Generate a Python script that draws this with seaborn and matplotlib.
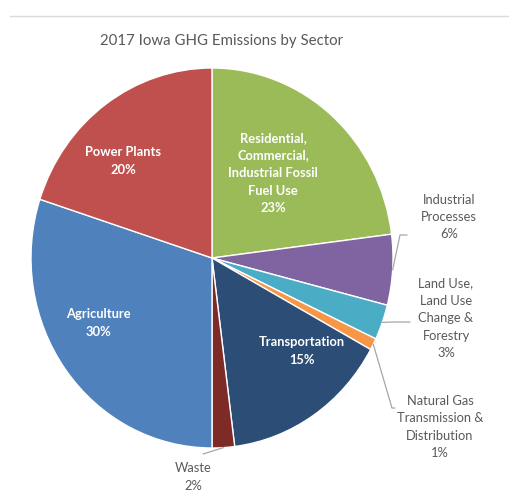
import matplotlib
matplotlib.use("Agg")
import matplotlib.pyplot as plt
import seaborn as sns
import numpy as np
from matplotlib.lines import Line2D

sns.set_theme(style="white")
plt.rcParams['font.family'] = ['Lato', 'DejaVu Sans']

sectors = ["Residential,\nCommercial,\nIndustrial Fossil\nFuel Use",
           "Industrial\nProcesses",
           "Land Use,\nLand Use\nChange &\nForestry",
           "Natural Gas\nTransmission &\nDistribution",
           "Transportation",
           "Waste",
           "Agriculture",
           "Power Plants"]
shares = [23, 6, 3, 1, 15, 2, 30, 20]
colors = ["#9BBB59", "#8064A2", "#4BACC6", "#F79646",
          "#2C4D75", "#7E2A27", "#4F81BD", "#C0504D"]

W, H = 509, 494
fig = plt.figure(figsize=(W / 100, H / 100), dpi=100)
fig.patch.set_facecolor("white")

# axes placed in pixel terms: pie spans x 31..393, y 68..448 (from top)
ax = fig.add_axes([31 / W, (H - 448) / H, 362 / W, 380 / H])
wedges, _ = ax.pie(shares, colors=colors, startangle=90, counterclock=False,
                   wedgeprops=dict(edgecolor="white", linewidth=1.0))
ax.set_aspect("auto")
ax.set_xlim(-1, 1)
ax.set_ylim(-1, 1)
ax.axis("off")

grey = "#595959"
fs = 9.3
ls = 1.55

# inside labels (pixel positions from top-left)
inside_pos = {0: (273, 173), 4: (302, 351), 6: (98, 323), 7: (123, 161)}
for i, (x, y) in inside_pos.items():
    fig.text(x / W, (H - y) / H, f"{sectors[i]}\n{shares[i]}%", ha="center", va="center",
             color="white", fontsize=fs, fontweight="bold", linespacing=ls)

# outside labels
outside_pos = {1: (449, 217), 2: (446, 318), 3: (440, 427), 5: (193, 477)}
for i, (x, y) in outside_pos.items():
    fig.text(x / W, (H - y) / H, f"{sectors[i]}\n{shares[i]}%", ha="center", va="center",
             color=grey, fontsize=fs, linespacing=ls)

# leader lines: start at wedge edge, through elbow points (pixels from top)
fig.canvas.draw()
elbows = {1: [(400, 235), (407, 235)],
          2: [(394, 322), (410, 322)],
          3: [(392, 408), (395, 408)],
          5: [(203, 454)]}
for i, pts in elbows.items():
    w = wedges[i]
    th = np.deg2rad((w.theta1 + w.theta2) / 2)
    sx, sy = ax.transData.transform((np.cos(th), np.sin(th)))
    xs = [sx] + [p[0] for p in pts]
    ys = [sy] + [H - p[1] for p in pts]
    fig.add_artist(Line2D(xs, ys, transform=None, color="#A6A6A6", linewidth=0.9))

# title
fig.text(221 / W, (H - 41) / H, "2017 Iowa GHG Emissions by Sector", ha="center", va="center",
         color=grey, fontsize=10.8)

# top rule
fig.add_artist(Line2D([10 / W, 1.0], [(H - 16) / H, (H - 16) / H],
                      transform=fig.transFigure, color="#D9D9D9", linewidth=1.0))

fig.savefig("out.png", dpi=100, facecolor="white")
